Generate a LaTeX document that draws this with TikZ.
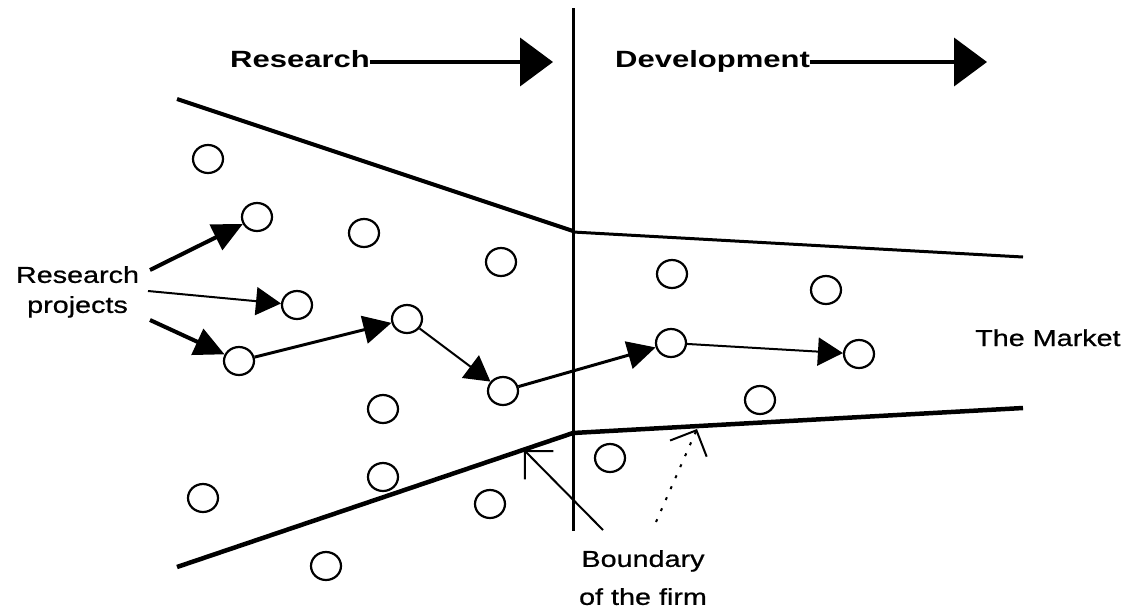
\documentclass[tikz,border=0pt]{standalone}
\usepackage{fontspec}
\setmainfont{Liberation Sans}
\newfontfamily\labelfont{Liberation Sans}[FakeStretch=1.25,FakeBold=0.8]
\newfontfamily\headfont{Liberation Sans}[FakeStretch=1.32]
\usetikzlibrary{arrows.meta,shapes.geometric}

\begin{document}
\begin{tikzpicture}[x=1pt,y=-1pt,
  proj/.style={draw, ellipse, minimum width=30pt, minimum height=28pt, inner sep=0pt, line width=2.2pt},
  heavy/.style={line width=4pt, -{Triangle[length=30pt,width=28pt]}},
  medium/.style={line width=3pt, -{Triangle[length=28pt,width=28pt]}},
  light/.style={line width=2pt, -{Triangle[length=25pt,width=28pt]}},
  pointer/.style={line width=2pt, -{Straight Barb[length=20pt,width=40pt]}},
  stage/.style={line width=4pt, -{Triangle[length=33pt,width=48pt]}},
  headtext/.style={font={\headfont\bfseries\fontsize{23.5}{28}\selectfont}, inner sep=0pt, anchor=base west},
  labeltext/.style={font={\labelfont\fontsize{23}{30}\selectfont}, inner sep=0pt},
  edge/.style={line width=4pt},
  thinedge/.style={line width=3pt}]
\useasboundingbox (0,0) rectangle (1142,608);

% stage headings
\node[headtext] (hres) at (230,67) {Research};
\node[headtext] (hdev) at (615,67) {Development};
\coordinate (resend) at (553,62);
\coordinate (devend) at (987,62);
\draw[stage] ([yshift=5pt]hres.base east) -- (resend);
\draw[stage] ([yshift=5pt]hdev.base east) -- (devend);

% boundary of the firm
\draw[edge] (177,99) -- (573,231);
\draw[thinedge] (573,232) -- (1023,257);
\draw[line width=4.5pt] (177,567) -- (573,433) -- (1023,408);
\draw[thinedge] (573,8) -- (573,531);

% projects
\node[proj] (c1) at (208,159) {};
\node[proj] (c2) at (257,217) {};
\node[proj] (c3) at (364,233) {};
\node[proj] (c4) at (501,262) {};
\node[proj] (c5) at (297,305) {};
\node[proj] (c6) at (239,361) {};
\node[proj] (c7) at (407,319) {};
\node[proj] (c8) at (503,391) {};
\node[proj] (c9) at (383,409) {};
\node[proj] (c10) at (383,477) {};
\node[proj] (c11) at (490,504) {};
\node[proj] (c12) at (203,498) {};
\node[proj] (c13) at (326,566) {};
\node[proj] (c14) at (672,274) {};
\node[proj] (c15) at (826,290) {};
\node[proj] (c16) at (671,343) {};
\node[proj] (c17) at (859,354) {};
\node[proj] (c18) at (760,400) {};
\node[proj] (c19) at (610,458) {};

% labels
\node[labeltext, align=center, anchor=north] (rp) at (77.5,266) {Research\\projects};
\node[labeltext, anchor=base west] (mkt) at (975,346) {The Market};
\node[labeltext, align=center, anchor=north, font={\labelfont\fontsize{23}{38}\selectfont}] (bnd) at (643,550) {Boundary\\of the firm};

% project arrows
\coordinate (rp1) at (150,270);
\coordinate (rp2) at (148,291);
\coordinate (rp3) at (150,320);
\draw[heavy] (rp1) -- (c2);
\draw[light] (rp2) -- (c5);
\draw[heavy] (rp3) -- (c6);
\draw[medium] (c6) -- (c7);
\draw[light] (c7) -- (c8);
\draw[medium] (c8) -- (c16);
\draw[light] (c16) -- (c17);

% pointers to the boundary
\coordinate (tailA) at (603,530);
\coordinate (tipA) at (524,450);
\coordinate (tailB) at (656,522);
\coordinate (tipB) at (697,429);
\draw[pointer] (tailA) -- (tipA);
\draw[pointer, dash pattern=on 3pt off 9pt] (tailB) -- (tipB);
\end{tikzpicture}
\end{document}
